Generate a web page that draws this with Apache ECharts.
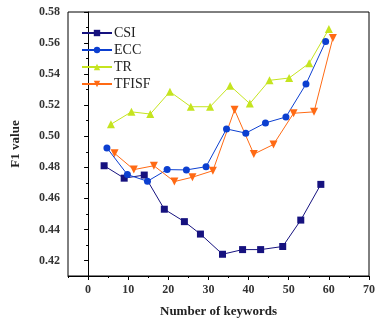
<!DOCTYPE html>
<html>
<head>
<meta charset="utf-8">
<script src="https://cdn.jsdelivr.net/npm/echarts@6/dist/echarts.min.js"></script>
<style>
  html, body { margin: 0; padding: 0; background: #fff; }
  #chart { width: 378px; height: 323px; }
</style>
</head>
<body>
<div id="chart"></div>
<script>
var csiX = [4, 9, 14, 19, 24, 28, 33.5, 38.5, 43, 48.5, 53, 58];
var csiY = [0.481, 0.473, 0.475, 0.453, 0.445, 0.437, 0.424, 0.427, 0.427, 0.429, 0.446, 0.469];
var eccX = [4.7, 9.8, 14.8, 19.7, 24.5, 29.4, 34.5, 39.3, 44.2, 49.3, 54.3, 59.2];
var eccY = [0.4925, 0.4753, 0.471, 0.4785, 0.4783, 0.4804, 0.5047, 0.502, 0.5086, 0.5124, 0.5336, 0.561];
var trX = [5.7, 10.8, 15.5, 20.4, 25.6, 30.4, 35.4, 40.3, 45.2, 50.1, 55.1, 60];
var trY = [0.5077, 0.5157, 0.5143, 0.5287, 0.519, 0.519, 0.5325, 0.521, 0.536, 0.5375, 0.547, 0.569];
var tfX = [6.6, 11.4, 16.4, 21.5, 26, 31.1, 36.5, 41.3, 46.2, 51.2, 56.3, 61];
var tfY = [0.489, 0.4785, 0.481, 0.4708, 0.4736, 0.4778, 0.517, 0.4885, 0.4947, 0.5148, 0.5157, 0.5633];
var xTicks = [0, 10, 20, 30, 40, 50, 60, 70];
var xMinor = [-5, 5, 15, 25, 35, 45, 55, 65];
var yTicks = [0.42, 0.44, 0.46, 0.48, 0.50, 0.52, 0.54, 0.56, 0.58];
var yMinor = [0.41, 0.43, 0.45, 0.47, 0.49, 0.51, 0.53, 0.55, 0.57];

function pairs(xs, ys) {
  return xs.map(function (x, i) { return [x, ys[i]]; });
}

var font = 'Liberation Serif';
var labelStyle = { color: '#333', fontFamily: font, fontWeight: 'bold', fontSize: 12 };

function mkSeries(name, xs, ys, color, symbol, size, rotate) {
  return {
    name: name,
    type: 'line',
    data: pairs(xs, ys),
    symbol: symbol,
    symbolSize: size,
    symbolRotate: rotate || 0,
    color: color,
    lineStyle: { width: 1, color: color },
    itemStyle: { color: color },
    xAxisIndex: 0,
    yAxisIndex: 0,
    animation: false
  };
}

var chart = echarts.init(document.getElementById('chart'));
chart.setOption({
  animation: false,
  legend: {
    orient: 'vertical',
    left: 81,
    top: 26,
    padding: 0,
    itemWidth: 30,
    itemHeight: 8,
    itemGap: 3,
    textStyle: { fontFamily: font, fontSize: 14, color: '#222', padding: [0, 0, 0, -3] },
    data: ['CSI', 'ECC', 'TR', 'TFISF']
  },
  grid: {
    left: 68, right: 3, top: 12, bottom: 45,
    show: true, borderColor: '#000', borderWidth: 1, backgroundColor: 'transparent'
  },
  xAxis: [{
    type: 'value', min: -5, max: 70,
    name: 'Number of keywords', nameLocation: 'middle', nameGap: 29,
    nameTextStyle: { fontFamily: font, fontWeight: 'bold', fontSize: 13, color: '#222' },
    axisLine: { lineStyle: { color: '#000', width: 1 } },
    axisTick: { customValues: xTicks, length: 4, lineStyle: { color: '#000' } },
    axisLabel: Object.assign({ customValues: xTicks, margin: 8 }, labelStyle),
    splitLine: { show: false }
  }, {
    type: 'value', min: -5, max: 70, position: 'bottom',
    axisLine: { show: false },
    axisTick: { customValues: xMinor, length: 2, lineStyle: { color: '#000' } },
    axisLabel: { show: false },
    splitLine: { show: false }
  }],
  yAxis: [{
    type: 'value', min: 0.41, max: 0.58,
    name: 'F1 value', nameLocation: 'middle', nameGap: 46,
    nameTextStyle: { fontFamily: font, fontWeight: 'bold', fontSize: 13, color: '#222' },
    axisLine: { show: true, lineStyle: { color: '#000', width: 1 } },
    axisTick: { show: true, customValues: yTicks, length: 4, lineStyle: { color: '#000' } },
    axisLabel: Object.assign({ customValues: yTicks, margin: 8, formatter: function (v) { return v.toFixed(2); } }, labelStyle),
    splitLine: { show: false }
  }, {
    type: 'value', min: 0.41, max: 0.58, position: 'left',
    axisLine: { show: false },
    axisTick: { show: true, customValues: yMinor, length: 2, lineStyle: { color: '#000' } },
    axisLabel: { show: false },
    splitLine: { show: false }
  }],
  series: [
    mkSeries('CSI', csiX, csiY, '#16127f', 'rect', 7),
    mkSeries('ECC', eccX, eccY, '#0c3fd0', 'circle', 7),
    mkSeries('TR', trX, trY, '#c5e41f', 'triangle', 8),
    mkSeries('TFISF', tfX, tfY, '#ff6a14', 'triangle', 8, 180)
  ]
});
</script>
</body>
</html>
